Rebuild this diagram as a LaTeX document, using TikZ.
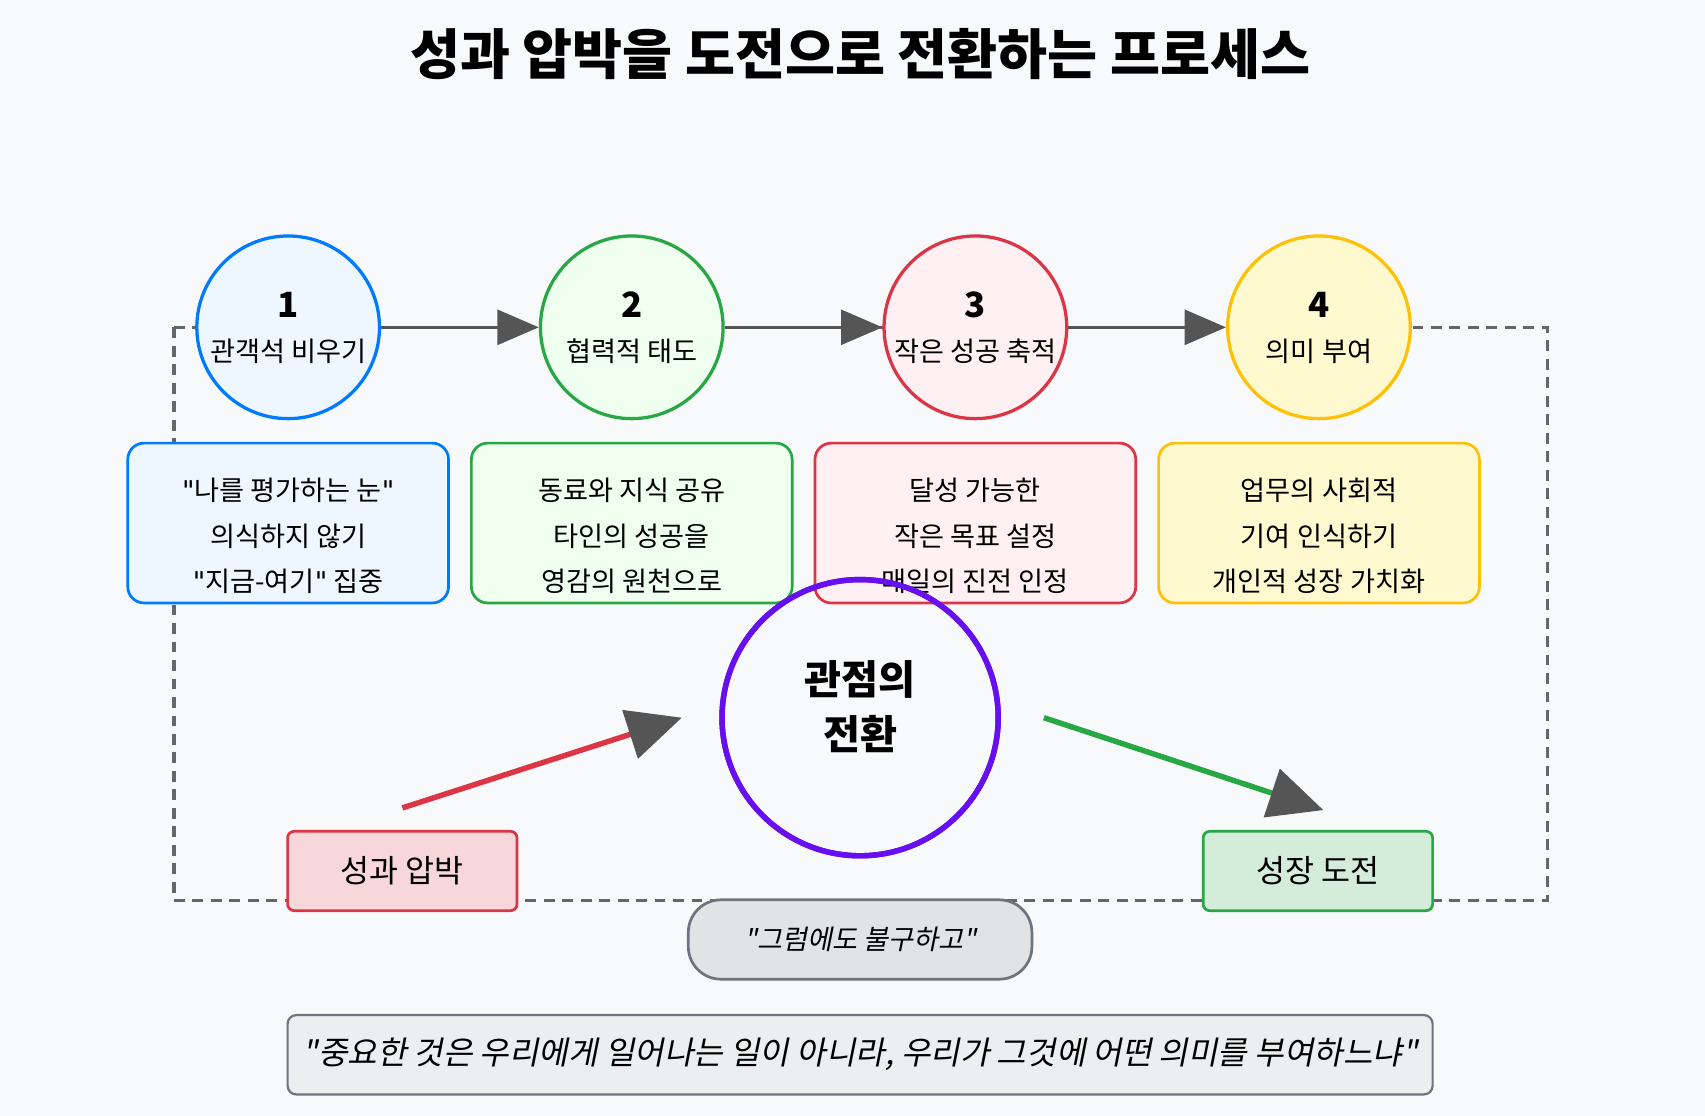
\documentclass[tikz,border=0pt]{standalone}
\usepackage{fontspec}
\setmainfont{Noto Sans CJK KR}
\newfontfamily\cjkit[FakeSlant=0.2]{Noto Sans CJK KR}
\newfontfamily\qf{DejaVu Sans}
\newcommand{\dq}{{\qf"}}
\usetikzlibrary{arrows.meta}
\definecolor{bg}{HTML}{F8F9FA}
\definecolor{cb}{HTML}{007BFF}\definecolor{fb}{HTML}{EEF6FF}
\definecolor{cg}{HTML}{28A745}\definecolor{fg}{HTML}{EFFFF0}
\definecolor{cr}{HTML}{DC3545}\definecolor{fr}{HTML}{FFF0F3}
\definecolor{cy}{HTML}{FFC107}\definecolor{fy}{HTML}{FFF9D0}
\definecolor{cp}{HTML}{6610F2}
\definecolor{ag}{HTML}{555555}
\definecolor{dg}{HTML}{666666}
\definecolor{sg}{HTML}{6C757D}
\begin{document}
\begin{tikzpicture}[x=1pt,y=-1pt,
 circ/.style={circle,line width=3pt,minimum size=168pt,inner sep=0pt},
 infobox/.style={rounded corners=15pt,line width=2.5pt,minimum width=295pt,minimum height=147pt},
 infotext/.style={align=center,font=\fontsize{25}{42}\selectfont},
 flow/.style={line width=3pt,ag,-{Triangle[length=38pt,width=32pt]}},
 endbox/.style={rounded corners=6pt,line width=2.5pt,minimum width=211pt,minimum height=73pt,font=\fontsize{29}{32}\selectfont}]
\fill[bg] (0,0) rectangle (1568,1026);
\useasboundingbox (0,0) rectangle (1568,1026);
\node (title) at (791,50) {\fontsize{50}{54}\selectfont\bfseries 성과 압박을 도전으로 전환하는 프로세스};
\draw[dg,dashed,line width=3pt,dash pattern=on 10pt off 7pt] (160,301) rectangle (1423,828);
\foreach \i/\x/\c/\f/\t in {1/265/cb/fb/관객석 비우기,2/581/cg/fg/협력적 태도,3/897/cr/fr/작은 성공 축적,4/1213/cy/fy/의미 부여}{
 \node[circ,draw=\c,fill=\f] (c\i) at (\x,301) {};
 \node at (\x,280) {\fontsize{32}{34}\selectfont\bfseries \i};
 \node at (\x,323) {\fontsize{25}{28}\selectfont \t};
}
\draw[flow] (c1) -- (c2);
\draw[flow] (c2) -- (c3);
\draw[flow] (c3) -- (c4);
\node[infobox,draw=cb,fill=fb] (b1) at (265,481) {};
\node[infobox,draw=cg,fill=fg] (b2) at (581,481) {};
\node[infobox,draw=cr,fill=fr] (b3) at (897,481) {};
\node[infobox,draw=cy,fill=fy] (b4) at (1213,481) {};
\node[infotext] (t1) at (265,493) {\dq 나를 평가하는 눈\dq\\의식하지 않기\\\dq 지금-여기\dq{} 집중};
\node[infotext] (t2) at (581,493) {동료와 지식 공유\\타인의 성공을\\영감의 원천으로};
\node[infotext] (t4) at (1213,493) {업무의 사회적\\기여 인식하기\\개인적 성장 가치화};
\node[circle,draw=cp,line width=5pt,minimum size=254pt,inner sep=0pt] (mid) at (791,660) {};
\node[infotext] (t3) at (897,493) {달성 가능한\\작은 목표 설정\\매일의 진전 인정};
\node[circle,draw=cp,line width=5pt,minimum size=254pt,inner sep=0pt] at (791,660) {};
\node[align=center,font=\fontsize{37}{50}\selectfont\bfseries] (midt) at (791,650) {관점의\\전환};
\node[endbox,draw=cr,fill=cr!20] (p) at (370,801) {성과 압박};
\node[endbox,draw=cg,fill=cg!20] (g) at (1212,801) {성장 도전};
\coordinate (ps) at (370,743);
\coordinate (pe) at (627,660);
\coordinate (gs) at (960,660);
\coordinate (ge) at (1217,745);
\draw[line width=5pt,cr,-{Triangle[length=50pt,width=46pt,color=ag]}] (ps) -- (pe);
\draw[line width=5pt,cg,-{Triangle[length=50pt,width=46pt,color=ag]}] (gs) -- (ge);
\node[draw=sg,fill=sg!20,line width=2.5pt,rounded corners=30pt,minimum width=316pt,minimum height=73pt,font=\fontsize{25}{28}\cjkit] (q1) at (791,864) {"그럼에도 불구하고"};
\node[draw=sg,fill=sg!12,line width=2pt,rounded corners=8pt,minimum width=1053pt,minimum height=73pt,font=\fontsize{29.5}{32}\cjkit] (q2) at (791,970) {"중요한 것은 우리에게 일어나는 일이 아니라, 우리가 그것에 어떤 의미를 부여하느냐"};
\end{tikzpicture}
\end{document}
